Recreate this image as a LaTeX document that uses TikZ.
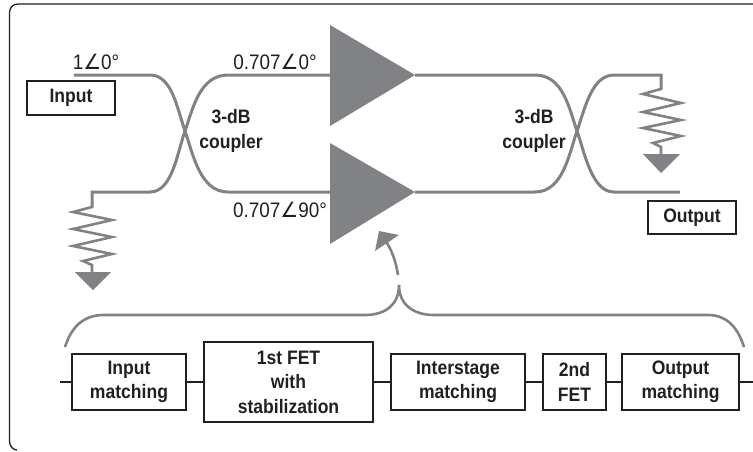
\documentclass[tikz,border=0pt]{standalone}
\usepackage{fontspec}
\setmainfont[FakeStretch=0.9]{Liberation Sans}
\newfontfamily\anglefont[FakeStretch=0.95]{DejaVu Sans}
\newcommand{\ang}{{\anglefont ∠}}
\definecolor{wiregray}{HTML}{808285}
\definecolor{inkblack}{HTML}{231F20}
\tikzset{
  wire/.style={draw=wiregray,line width=3pt},
  thinwire/.style={draw=wiregray,line width=2.6pt,line join=miter},
  blockbox/.style={draw=inkblack,line width=1.6pt,align=center,font=\fontsize{19.5}{24.5}\selectfont\bfseries,text=inkblack,inner sep=0pt},
  value/.style={font=\fontsize{21}{22}\selectfont,text=inkblack,inner sep=0pt},
  tag/.style={font=\fontsize{19.5}{25}\selectfont\bfseries,text=inkblack,align=center,inner sep=0pt},
  amp/.style={fill=wiregray,draw=none},
}
\begin{document}
\begin{tikzpicture}[x=1pt,y=-1pt]
            \useasboundingbox (0,0) rectangle (753,451);
            % frame
            \draw [inkblack,line width=1.3pt] (753,4) -- (18,4) .. controls (13,4) and (9.5,7.5) .. (9.5,13) -- (9.5,441) .. controls (9.5,446) and (13,450) .. (17,450);
            % amplifiers
            \coordinate (ampa) at (330,25);
            \coordinate (ampb) at (330,143);
            \coordinate (inone) at (330,75);
            \coordinate (intwo) at (330,192);
            \coordinate (outone) at (415,75);
            \coordinate (outtwo) at (415,192);
            \fill [amp] (ampa) -- (outone) -- (330,126) -- cycle;
            \fill [amp] (ampb) -- (outtwo) -- (330,244) -- cycle;
            % input coupler
            \coordinate (start) at (74,75);
            \coordinate (crossa) at (185,131);
            \coordinate (stubl) at (92,192);
            \draw [wire] (start) -- (150,75) .. controls (172,75) and (177,108) .. (crossa) .. controls (193,154) and (200,192) .. (228,192) -- (intwo);
            \draw [wire,line join=miter] (inone) -- (228,75) .. controls (200,75) and (193,108) .. (crossa) .. controls (177,154) and (172,192) .. (150,192) -- (stubl) -- (92,207);
            % output coupler
            \coordinate (crossb) at (577,131);
            \coordinate (stubr) at (661,75);
            \coordinate (stop) at (680,192);
            \draw [wire] (outone) -- (535,75) .. controls (563,75) and (569,108) .. (crossb) .. controls (585,154) and (592,192) .. (614,192) -- (stop);
            \draw [wire,line join=miter] (outtwo) -- (535,192) .. controls (563,192) and (569,154) .. (crossb) .. controls (585,108) and (592,75) .. (614,75) -- (stubr) -- (661,89);
            % resistors
            \draw [thinwire] (92,206) -- (92,207) -- (73,212) -- (112,220) -- (73,229) -- (112,237) -- (73,246) -- (112,254) -- (83,261) -- (92,265) -- (92,273);
            \draw [thinwire] (661,88) -- (661,89) -- (643,94) -- (681,103) -- (643,112) -- (681,120) -- (643,128) -- (681,136) -- (653,143) -- (661,147) -- (661,155);
            \fill [amp] (75,272) -- (111,272) -- (93,290) -- cycle;
            \fill [amp] (643,154) -- (680,154) -- (661,173) -- cycle;
            % labels
            \node [value] (gainin) at (96,62) {1\ang 0°};
            \node [value] (gainup) at (275,62) {0.707\ang 0°};
            \node [value] (gaindown) at (280,210) {0.707\ang 90°};
            \node [tag] (couplera) at (231,131) {3-dB\\coupler};
            \node [tag] (couplerb) at (534,131) {3-dB\\coupler};
            \node [blockbox,minimum width=88pt,minimum height=34pt] (inputbox) at (71,98) {Input};
            \node [blockbox,minimum width=88pt,minimum height=33pt] (outputbox) at (692,217.5) {Output};
            % chain of blocks
            \coordinate (leadin) at (60,382);
            \coordinate (leadout) at (753,382);
            \node [blockbox,minimum width=114pt,minimum height=56pt] (inmatch) at (129,382) {Input\\matching};
            \node [blockbox,minimum width=169pt,minimum height=80pt] (fet) at (288.5,382) {1st FET\\with\\stabilization};
            \node [blockbox,minimum width=134pt,minimum height=56pt] (stagematch) at (458,382) {Interstage\\matching};
            \node [blockbox,minimum width=63pt,minimum height=56pt] (fettwo) at (574.5,382) {2nd\\FET};
            \node [blockbox,minimum width=117pt,minimum height=56pt] (outmatch) at (680.5,382) {Output\\matching};
            \draw [inkblack,line width=1.6pt] (leadin) -- (inmatch) -- (fet) -- (stagematch) -- (fettwo) -- (outmatch) -- (leadout);
            % brace and arrow
            \coordinate (bracetip) at (399,285);
            \draw [thinwire] (65,347) .. controls (72,325) and (85,315) .. (104,315) -- (365,315) .. controls (385,315) and (399,305) .. (bracetip);
            \draw [thinwire] (744,347) .. controls (737,325) and (725,315) .. (708,315) -- (434,315) .. controls (414,315) and (399,305) .. (bracetip);
            \coordinate (tailend) at (398,275);
            \coordinate (headend) at (385,240);
            \draw [thinwire] (tailend) .. controls (396,262) and (392,250) .. (headend);
            \fill [amp] (379,231) -- (399,235) -- (375,251) -- cycle;
        \end{tikzpicture}
\end{document}
